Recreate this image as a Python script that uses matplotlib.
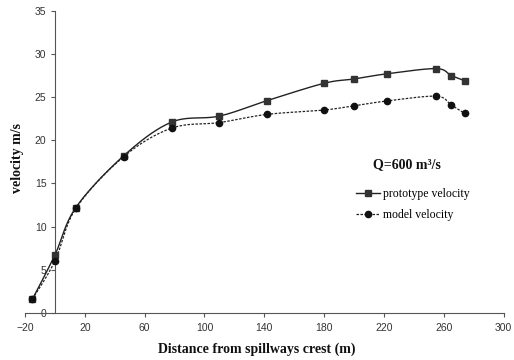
import matplotlib
matplotlib.use("Agg")
import matplotlib.pyplot as plt
from matplotlib.lines import Line2D
import numpy as np

# values
distance = [-15, 0, 14, 46, 78, 110, 142, 180, 200, 222, 255, 265, 274]
prototype = [1.6, 6.7, 12.2, 18.2, 22.1, 22.8, 24.6, 26.6, 27.1, 27.7, 28.3, 27.5, 26.9]
model = [1.6, 6.0, 12.1, 18.1, 21.4, 22.05, 23.0, 23.5, 24.0, 24.55, 25.1, 24.1, 23.1]
xticks = [-20, 20, 60, 100, 140, 180, 220, 260, 300]
yticks = [0, 5, 10, 15, 20, 25, 30, 35]

SERIF = "Liberation Serif"
SANS = "Liberation Sans"
INK = "#222222"


def smooth(x, y, n=20):
    # Excel-style smoothed line (Bezier through the points)
    p = np.column_stack([x, y]).astype(float)
    p = np.vstack([p[0], p, p[-1]])
    out = []
    for i in range(1, len(p) - 2):
        p0, p1, p2, p3 = p[i - 1], p[i], p[i + 1], p[i + 2]
        c1 = p1 + (p2 - p0) / 6.0
        c2 = p2 - (p3 - p1) / 6.0
        t = np.linspace(0, 1, n)[:, None]
        seg = ((1 - t) ** 3) * p1 + 3 * ((1 - t) ** 2) * t * c1 + 3 * (1 - t) * t ** 2 * c2 + t ** 3 * p2
        out.append(seg)
    out = np.vstack(out)
    return out[:, 0], out[:, 1]


fig = plt.figure(figsize=(5.14, 3.6), dpi=100)
ax = fig.add_axes([0.0486, 0.131, 0.931, 0.839])

sx, sy = smooth(distance, prototype)
ax.plot(sx, sy, color=INK, lw=1.0, zorder=3)
ax.plot(distance, prototype, ls="none", marker="s", ms=5, color="#333333", zorder=4)

mx, my = smooth(distance, model)
ax.plot(mx, my, color=INK, lw=0.9, ls=(0, (2, 1.2)), zorder=2)
ax.plot(distance, model, ls="none", marker="o", ms=4.5, color="#111111", zorder=4)

ax.set_xlim(-20, 300)
ax.set_ylim(0, 35)
ax.set_xticks(xticks)
ax.set_yticks(yticks)
for s in ("top", "right"):
    ax.spines[s].set_visible(False)
ax.spines["left"].set_position(("data", 0))
for s in ("left", "bottom"):
    ax.spines[s].set_color("#555555")
    ax.spines[s].set_linewidth(0.8)
ax.tick_params(axis="both", length=3, width=0.8, color="#555555",
               labelsize=7.5, labelcolor="#333333")
ax.tick_params(axis="y", pad=3)
ax.tick_params(axis="x", pad=4)
for lab in ax.get_xticklabels() + ax.get_yticklabels():
    lab.set_fontfamily(SANS)

fig.text(0.5, 0.03, "Distance from spillways crest (m)", ha="center", va="center",
         fontfamily=SERIF, fontweight="bold", fontsize=10, color="#111111")
fig.text(0.035, 0.56, "velocity m/s", rotation=90, ha="center", va="center",
         fontfamily=SERIF, fontweight="bold", fontsize=10, color="#111111")

fig.text(407 / 514, 1 - 165 / 360, "Q=600 m\u00b3/s", ha="center", va="center",
         fontfamily=SERIF, fontweight="bold", fontsize=10, color="#111111")

handles = [
    Line2D([], [], color=INK, lw=1.0, marker="s", ms=5, mfc="#333333", mec="#333333"),
    Line2D([], [], color=INK, lw=0.9, ls=(0, (2, 1.2)), marker="o", ms=4.5,
           mfc="#111111", mec="#111111"),
]
fig.legend(handles, ["prototype velocity", "model velocity"],
           loc="upper left", bbox_to_anchor=(348 / 514, 1 - 180 / 360),
           frameon=False, prop={"family": SERIF, "size": 8.5},
           handlelength=2.0, handletextpad=0.3, labelspacing=0.75,
           borderpad=0.2)

fig.savefig("out.png", dpi=100)
